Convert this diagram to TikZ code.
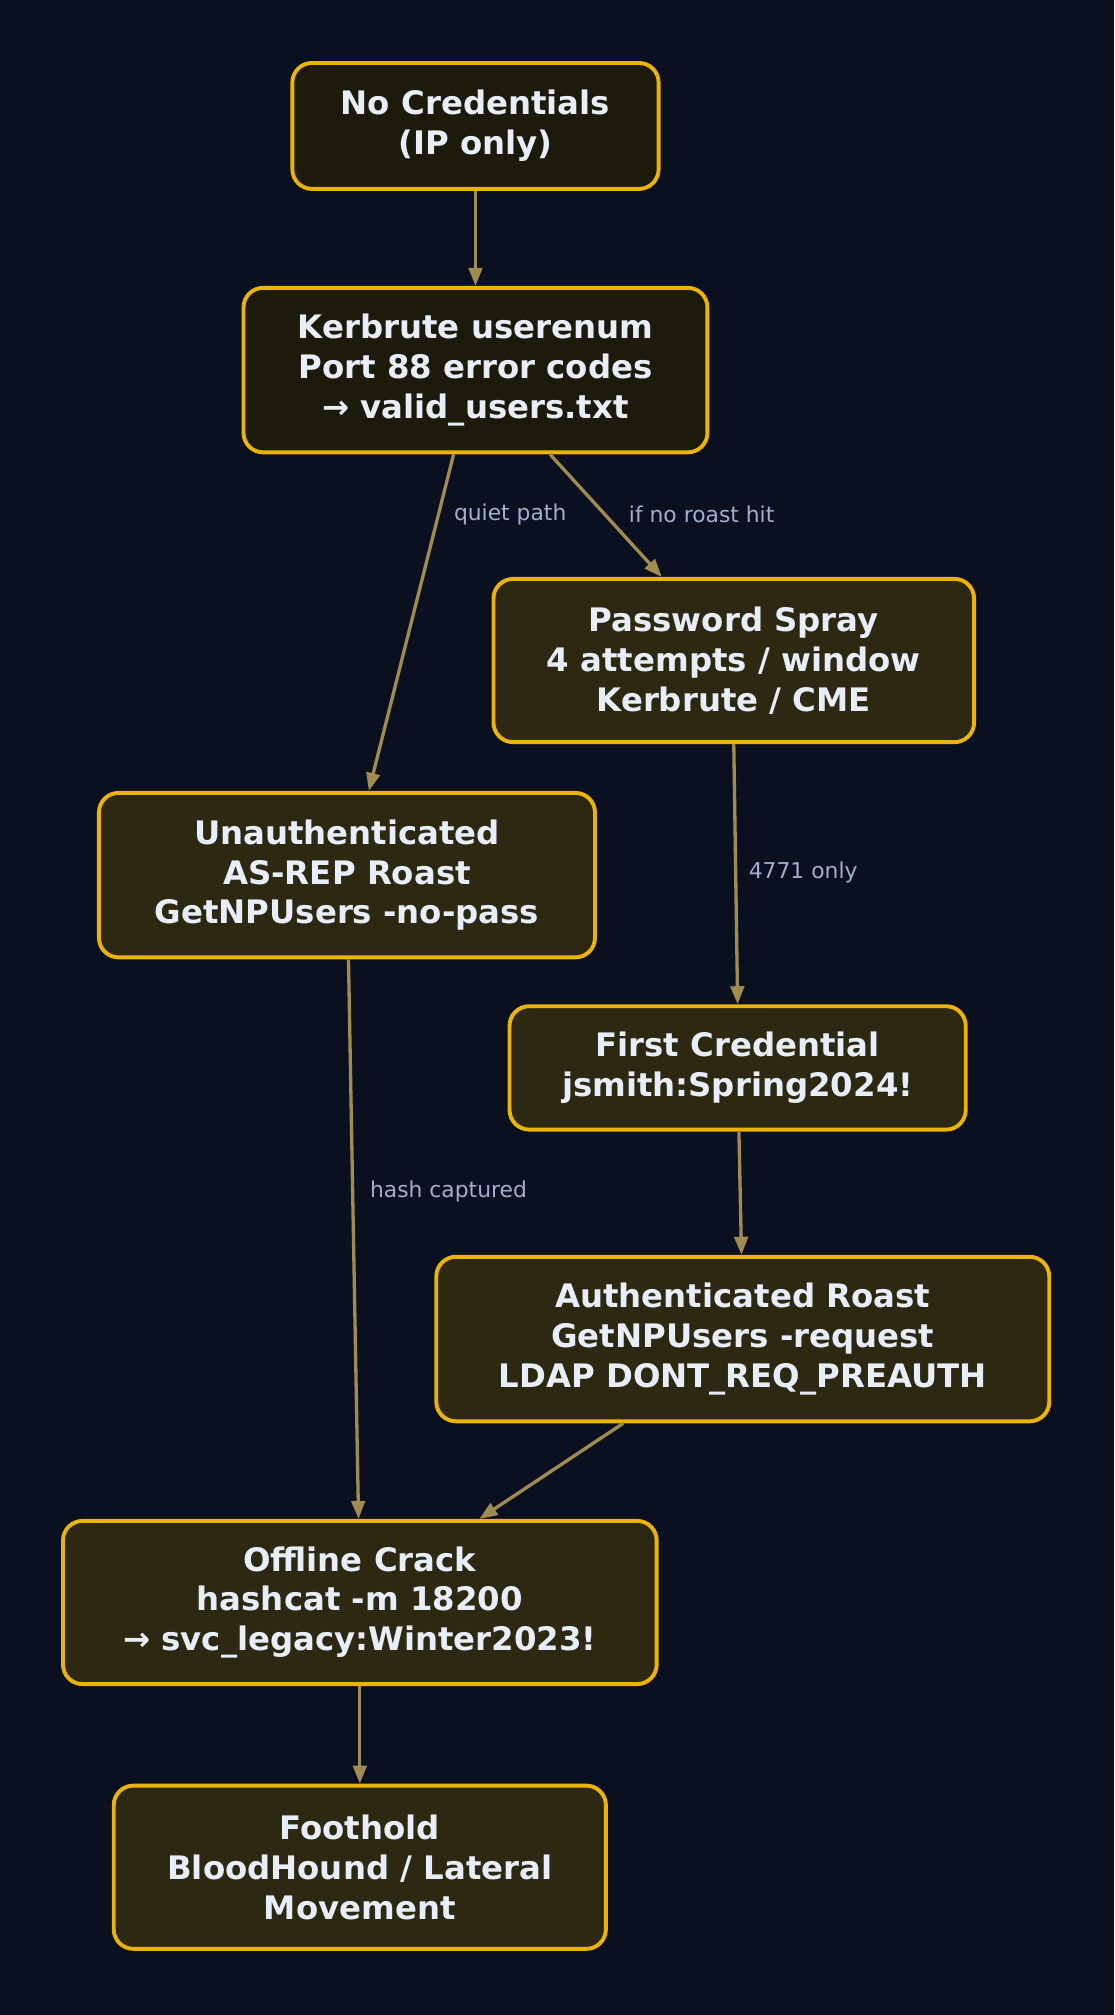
\documentclass[tikz,border=0pt]{standalone}
\usepackage{fontspec}
\setmainfont{DejaVu Sans}
\usetikzlibrary{arrows.meta}
\definecolor{bgc}{HTML}{0B1020}
\definecolor{gold}{HTML}{EAB308}
\definecolor{fillA}{HTML}{1C1A0A}
\definecolor{fillB}{HTML}{2D2812}
\definecolor{edgec}{HTML}{A08C50}
\definecolor{labc}{HTML}{A0B0D0}
\definecolor{txtc}{HTML}{E8EEF8}
\begin{document}
\begin{tikzpicture}[x=0.03cm,y=-0.03cm,>={Triangle[length=12pt,width=9pt]},
  stage/.style={draw=gold, line width=2.6pt, rounded corners=13pt, fill=fillB,
    text=txtc, align=center, font=\fontsize{21.5}{26.5}\selectfont\bfseries, inner sep=0pt},
  flow/.style={->, draw=edgec, line width=2.2pt},
  lbl/.style={text=labc, font=\fontsize{14.5}{17}\selectfont, fill=bgc, inner sep=1pt}]
  \fill[bgc] (0,0) rectangle (867,1568);
  \node (nocred) [stage, fill=fillA, minimum width=285*0.03cm, minimum height=98*0.03cm] at (370,98) {No Credentials\\(IP only)};
  \node (kerb) [stage, fill=fillA, minimum width=361*0.03cm, minimum height=128*0.03cm] at (370,288) {Kerbrute userenum\\Port 88 error codes\\→ valid\_users.txt};
  \node (spray) [stage, minimum width=374*0.03cm, minimum height=127*0.03cm] at (571,514) {Password Spray\\4 attempts / window\\Kerbrute / CME};
  \node (asrep) [stage, minimum width=386*0.03cm, minimum height=128*0.03cm] at (270,681) {Unauthenticated\\AS-REP Roast\\GetNPUsers -no-pass};
  \node (firstcred) [stage, minimum width=355*0.03cm, minimum height=96*0.03cm] at (574,831) {First Credential\\jsmith:Spring2024!};
  \node (authroast) [stage, minimum width=477*0.03cm, minimum height=128*0.03cm] at (578,1042) {Authenticated Roast\\GetNPUsers -request\\LDAP DONT\_REQ\_PREAUTH};
  \node (crack) [stage, minimum width=462*0.03cm, minimum height=127*0.03cm] at (280,1247) {Offline Crack\\hashcat -m 18200\\→ svc\_legacy:Winter2023!};
  \node (foothold) [stage, minimum width=383*0.03cm, minimum height=127*0.03cm] at (280,1453) {Foothold\\BloodHound / Lateral\\Movement};

  \draw[flow] (nocred) -- (kerb);
  \draw[flow] (kerb.south -| 353,0) -- (asrep.north -| 287,0);
  \draw[flow] (kerb.south -| 428,0) -- (spray.north -| 515,0);
  \draw[flow] (spray.south -| 571,0) -- (firstcred.north -| 574,0);
  \draw[flow] (asrep) -- (crack.north -| 279,0);
  \draw[flow] (firstcred.south -| 575,0) -- (authroast.north -| 577,0);
  \draw[flow] (authroast.south -| 485,0) -- (crack.north -| 373,0);
  \draw[flow] (crack) -- (foothold);

  \node (lquiet) [lbl] at (397,400) {quiet path};
  \node (lnoroast) [lbl] at (546,400) {if no roast hit};
  \node (l4771) [lbl] at (625,679) {4771 only};
  \node (lhash) [lbl] at (349,927) {hash captured};
\end{tikzpicture}
\end{document}
